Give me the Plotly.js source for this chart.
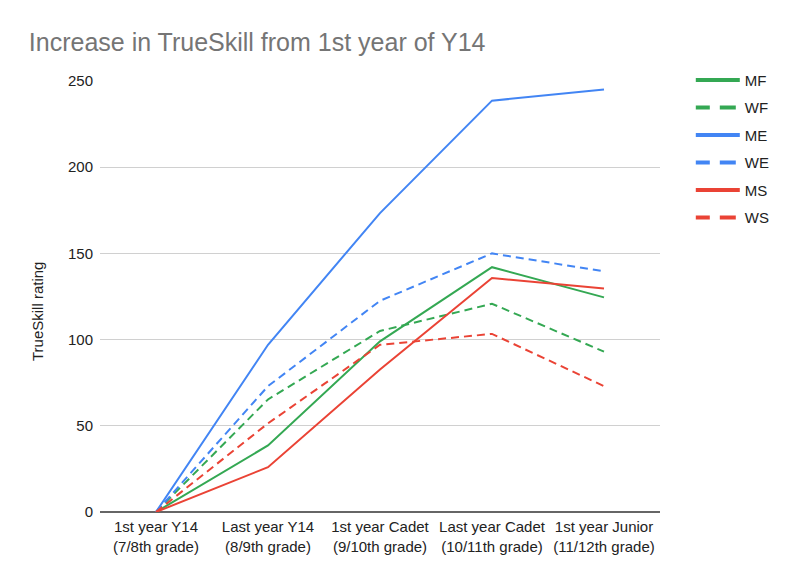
<!DOCTYPE html>
<html>
<head>
<meta charset="utf-8">
<script src="https://cdn.plot.ly/plotly-3.0.1.min.js"></script>
<style>html,body{margin:0;padding:0;background:#fff;}#chart{width:800px;height:580px;}</style>
</head>
<body>
<div id="chart"></div>
<script>
const categories = ["1st year Y14<br>(7/8th grade)", "Last year Y14<br>(8/9th grade)", "1st year Cadet<br>(9/10th grade)", "Last year Cadet<br>(10/11th grade)", "1st year Junior<br>(11/12th grade)"];
const seriesNames = ["MF", "WF", "ME", "WE", "MS", "WS"];
const MF = [0, 38.6, 99, 142, 124.5];
const WF = [0, 65.3, 105, 120.8, 93];
const ME = [0, 97, 173.4, 238.6, 245];
const WE = [0, 73, 122.5, 150, 139.6];
const MS = [0, 26, 82.6, 135.7, 129.6];
const WS = [0, 51.4, 97, 103.3, 73];
const seriesValues = [MF, WF, ME, WE, MS, WS];
const yTitle = "TrueSkill rating";

const colors = {MF: "#34a853", WF: "#34a853", ME: "#4285f4", WE: "#4285f4", MS: "#ea4335", WS: "#ea4335"};
const dashed = {MF: false, WF: true, ME: false, WE: true, MS: false, WS: true};

const traces = [];
seriesNames.forEach((name, i) => {
  traces.push({
    type: "scatter", mode: "lines", x: categories, y: seriesValues[i], name: name,
    showlegend: false, hoverinfo: "skip",
    line: {color: colors[name], width: 2, dash: dashed[name] ? "8px,5px" : "solid"}
  });
});
seriesNames.forEach((name, i) => {
  traces.push({
    type: "scatter", mode: "lines", x: [null], y: [null], name: name,
    legendgroup: "g" + i, showlegend: true,
    line: {color: colors[name], width: 4, dash: dashed[name] ? "14px,10px,16px" : "solid"}
  });
});

const layout = {
  width: 800, height: 580,
  paper_bgcolor: "#fff", plot_bgcolor: "#fff",
  margin: {l: 100, r: 140, t: 81, b: 68},
  font: {family: "Liberation Sans, Arial, sans-serif", color: "#222", size: 15},
  title: {text: "Increase in TrueSkill from 1st year of Y14", x: 0.036, xanchor: "left", y: 0.927, yanchor: "middle",
          font: {size: 25, color: "#757575", family: "Liberation Sans, Arial, sans-serif"}},
  xaxis: {type: "category", range: [-0.5, 4.5], showgrid: false, zeroline: false, showline: false,
          ticks: "", ticklen: 0, ticklabelstandoff: 4, tickfont: {size: 15, color: "#222"}, fixedrange: true},
  yaxis: {range: [0, 250], tickvals: [0, 50, 100, 150, 200, 250], showgrid: true, gridcolor: "#d0d0d0", gridwidth: 1,
          zeroline: true, zerolinecolor: "#666", zerolinewidth: 2, showline: false, ticks: "", ticklen: 0,
          ticklabelstandoff: 6, tickfont: {size: 15, color: "#222"}, fixedrange: true},
  annotations: [{text: yTitle, xref: "paper", yref: "paper", x: -0.1125, y: 0.464, textangle: -90,
                 showarrow: false, xanchor: "center", yanchor: "middle", font: {size: 15, color: "#222"}}],
  legend: {x: 1.055, y: 1.04, yanchor: "top", font: {size: 15, color: "#222"},
           traceorder: "grouped", tracegroupgap: 5, itemwidth: 44, bgcolor: "rgba(0,0,0,0)"},
  showlegend: true
};

Plotly.newPlot("chart", traces, layout, {displayModeBar: false, staticPlot: true});
</script>
</body>
</html>
